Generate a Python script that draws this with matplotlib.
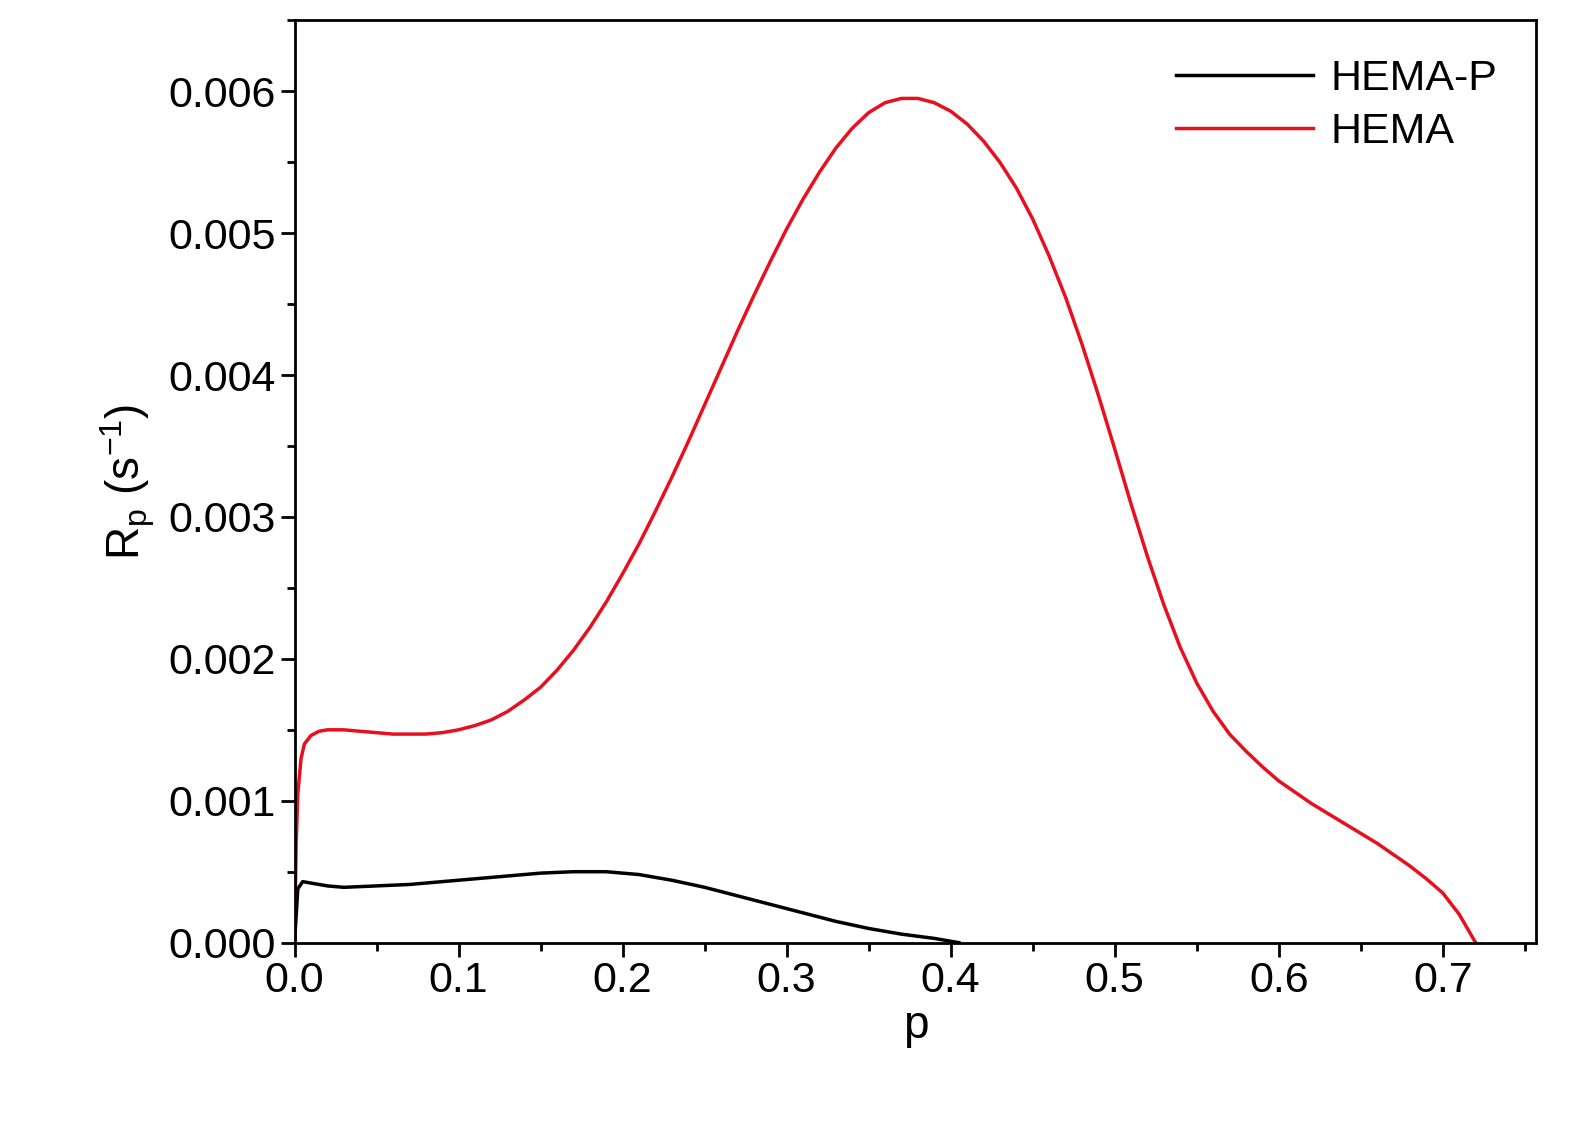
import matplotlib
matplotlib.use("Agg")
import matplotlib.pyplot as plt
from matplotlib.ticker import MultipleLocator

plt.rcParams['font.family'] = ['Liberation Sans', 'DejaVu Sans']

# HEMA curve (values in 1e-3 s^-1)
p_hema = [0, 0.001, 0.002, 0.004, 0.006, 0.01, 0.015, 0.02, 0.03, 0.04, 0.05, 0.06, 0.07,
          0.08, 0.09, 0.1, 0.11, 0.12, 0.13, 0.14, 0.15, 0.16, 0.17, 0.18, 0.19, 0.2,
          0.21, 0.22, 0.23, 0.24, 0.25, 0.26, 0.27, 0.28, 0.29, 0.3, 0.31, 0.32, 0.33,
          0.34, 0.35, 0.36, 0.37, 0.38, 0.39, 0.4, 0.41, 0.42, 0.43, 0.44, 0.45, 0.46,
          0.47, 0.48, 0.49, 0.5, 0.51, 0.52, 0.53, 0.54, 0.55, 0.56, 0.57, 0.58, 0.59,
          0.6, 0.61, 0.62, 0.63, 0.64, 0.65, 0.66, 0.67, 0.68, 0.69, 0.7, 0.71, 0.72]
rp_hema = [0, 0.7, 1.05, 1.3, 1.4, 1.46, 1.49, 1.5, 1.5, 1.49, 1.48, 1.47, 1.47,
           1.47, 1.48, 1.5, 1.53, 1.57, 1.63, 1.71, 1.8, 1.92, 2.06, 2.22, 2.4, 2.6,
           2.81, 3.04, 3.28, 3.53, 3.79, 4.05, 4.31, 4.56, 4.8, 5.03, 5.24, 5.43, 5.6,
           5.74, 5.85, 5.92, 5.95, 5.95, 5.92, 5.86, 5.77, 5.65, 5.5, 5.32, 5.1, 4.84,
           4.55, 4.22, 3.86, 3.48, 3.09, 2.72, 2.38, 2.08, 1.83, 1.63, 1.47, 1.35, 1.24,
           1.14, 1.06, 0.98, 0.91, 0.84, 0.77, 0.7, 0.62, 0.54, 0.45, 0.35, 0.2, 0.0]

# HEMA-P curve (values in 1e-3 s^-1)
p_hemap = [0, 0.002, 0.005, 0.01, 0.02, 0.03, 0.05, 0.07, 0.1, 0.12, 0.15, 0.17, 0.19,
           0.21, 0.23, 0.25, 0.27, 0.29, 0.31, 0.33, 0.35, 0.37, 0.39, 0.405]
rp_hemap = [0, 0.38, 0.43, 0.42, 0.4, 0.39, 0.4, 0.41, 0.44, 0.46, 0.49, 0.5, 0.5,
            0.48, 0.44, 0.39, 0.33, 0.27, 0.21, 0.15, 0.1, 0.06, 0.03, 0.0]

fig = plt.figure(figsize=(15.92, 11.33), dpi=100)
ax = fig.add_axes([0.185, 0.168, 0.78, 0.814])

ax.plot(p_hemap, [v * 1e-3 for v in rp_hemap], color='black', lw=2.5, label='HEMA-P')
ax.plot(p_hema, [v * 1e-3 for v in rp_hema], color='#e8101e', lw=2.5, label='HEMA')

ax.set_xlim(0, 0.757)
ax.set_ylim(0, 0.0065)
ax.xaxis.set_major_locator(MultipleLocator(0.1))
ax.xaxis.set_minor_locator(MultipleLocator(0.05))
ax.yaxis.set_major_locator(MultipleLocator(0.001))
ax.yaxis.set_minor_locator(MultipleLocator(0.0005))
ax.xaxis.set_major_formatter(plt.FuncFormatter(lambda v, _: f"{v:.1f}"))
ax.yaxis.set_major_formatter(plt.FuncFormatter(lambda v, _: f"{v:.3f}"))
ax.tick_params(which='major', length=10, width=2, labelsize=31)
ax.tick_params(which='minor', length=6, width=2)
for s in ax.spines.values():
    s.set_linewidth(2)

ax.set_xlabel('p', fontsize=33, labelpad=2)
ax.set_ylabel(r'R$_\mathregular{p}$ (s$^\mathregular{-1}$)', fontsize=33, labelpad=8)
ax.legend(loc='upper right', fontsize=31, frameon=False, handlelength=3.2,
          borderaxespad=0.5, labelspacing=0.3, handletextpad=0.4)

fig.savefig('out.png', dpi=100)
